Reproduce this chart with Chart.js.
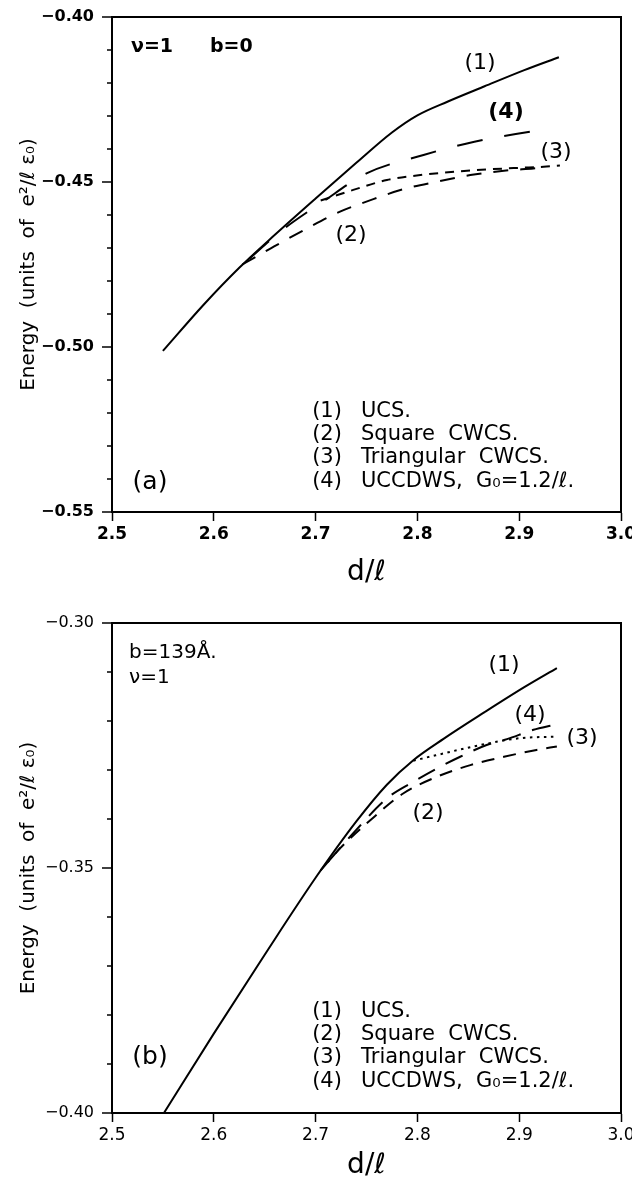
<!DOCTYPE html>
<html>
<head>
<meta charset="utf-8">
<script src="https://cdn.jsdelivr.net/npm/chart.js@4.4.0/dist/chart.umd.min.js"></script>
<style>
body { margin: 0; background: #fff; }
#wrap { position: relative; width: 632px; height: 1186px; }
canvas { position: absolute; left: 0; }
</style>
</head>
<body>
<div id="wrap">
  <canvas id="chartA" width="632" height="593" style="top:0"></canvas>
  <canvas id="chartB" width="632" height="593" style="top:593px"></canvas>
</div>
<script>
// panel (a)  nu=1, b=0
const aUcsD = [2.550, 2.590, 2.625, 2.660, 2.700, 2.740, 2.775, 2.800, 2.830, 2.866, 2.905, 2.939];
const aUcsE = [-0.5012, -0.4872, -0.4760, -0.4660, -0.4550, -0.4442, -0.4350, -0.4298, -0.4256, -0.4210, -0.4161, -0.4122];
const aSqD = [2.628, 2.656, 2.692, 2.724, 2.754, 2.786, 2.819, 2.852, 2.885, 2.914, 2.925];
const aSqE = [-0.4750, -0.4701, -0.4640, -0.4590, -0.4555, -0.4522, -0.4499, -0.4479, -0.4466, -0.4459, -0.4456];
const aTriD = [2.705, 2.737, 2.770, 2.803, 2.836, 2.868, 2.901, 2.924, 2.940];
const aTriE = [-0.4556, -0.4524, -0.4494, -0.4479, -0.4469, -0.4462, -0.4457, -0.4454, -0.4450];
const aCdwD = [2.635, 2.665, 2.707, 2.750, 2.806, 2.856, 2.917];
const aCdwE = [-0.4732, -0.4651, -0.4560, -0.4474, -0.4418, -0.4378, -0.4344];

// panel (b)  b=139A, nu=1
const bUcsD = [2.551, 2.600, 2.650, 2.700, 2.740, 2.770, 2.796, 2.826, 2.866, 2.905, 2.937];
const bUcsE = [-0.4000, -0.3838, -0.3677, -0.3520, -0.3405, -0.3330, -0.3280, -0.3236, -0.3182, -0.3131, -0.3092];
const bSqD = [2.705, 2.724, 2.754, 2.786, 2.819, 2.852, 2.885, 2.917, 2.937];
const bSqE = [-0.3505, -0.3460, -0.3402, -0.3348, -0.3314, -0.3290, -0.3273, -0.3259, -0.3252];
const bTriD = [2.796, 2.818, 2.862, 2.901, 2.937];
const bTriE = [-0.3281, -0.3270, -0.3249, -0.3235, -0.3232];
const bCdwD = [2.712, 2.737, 2.770, 2.796, 2.819, 2.842, 2.868, 2.888, 2.914, 2.934];
const bCdwE = [-0.3488, -0.3429, -0.3358, -0.3324, -0.3297, -0.3273, -0.3249, -0.3237, -0.3218, -0.3208];

const xTicks = [2.5, 2.6, 2.7, 2.8, 2.9, 3.0];
const legendRows = ['UCS.', 'Square  CWCS.', 'Triangular  CWCS.', 'UCCDWS,  G\u2080=1.2/\u2113.'];

function pts(ds, es) {
    return ds.map((d, i) => ({ x: d, y: es[i] }));
}

function line(ds, es, dash) {
    return {
        data: pts(ds, es),
        borderColor: '#000',
        borderWidth: 2,
        borderDash: dash,
        pointRadius: 0,
        fill: false,
        cubicInterpolationMode: 'monotone'
    };
}

// box round the plot area, and the y ticks (long at labels, short between)
const frame = {
    id: 'frame',
    afterDraw(chart) {
        const { ctx, chartArea: a } = chart;
        const y = chart.scales.y;
        ctx.save();
        ctx.strokeStyle = '#000';
        ctx.lineWidth = 2;
        ctx.strokeRect(a.left, a.top, a.right - a.left, a.bottom - a.top);
        ctx.lineWidth = 1.5;
        y.ticks.forEach(t => {
            const py = y.getPixelForValue(t.value);
            const len = Math.round(t.value * 100) % 5 === 0 ? 10 : 5;
            ctx.beginPath();
            ctx.moveTo(a.left - len, py);
            ctx.lineTo(a.left, py);
            ctx.stroke();
        });
        ctx.restore();
    }
};

// texts written inside the plot
const notes = {
    id: 'notes',
    afterDraw(chart, args, opts) {
        const ctx = chart.ctx;
        ctx.save();
        ctx.fillStyle = '#000';
        ctx.textBaseline = 'middle';
        opts.items.forEach(n => {
            ctx.font = n.font;
            ctx.textAlign = n.align || 'center';
            ctx.fillText(n.text, n.x, n.y);
        });
        ctx.restore();
    }
};

function legendItems(y0, tag, tagY) {
    const rowY = [y0, y0 + 23, y0 + 46, y0 + 70];
    const items = [];
    legendRows.forEach((t, i) => {
        items.push({ text: '(' + (i + 1) + ')', x: 327, y: rowY[i], font: '21px "DejaVu Sans"' });
        items.push({ text: t, x: 361, y: rowY[i], font: '21px "DejaVu Sans"', align: 'left' });
    });
    items.push({ text: tag, x: 150, y: tagY, font: '25px "DejaVu Sans"' });
    return items;
}

function makeChart(id, sets, yMin, yMax, bold, top, xHeight, items) {
    const weight = bold ? 'bold' : 'normal';
    return new Chart(document.getElementById(id), {
        type: 'line',
        data: { datasets: sets },
        options: {
            responsive: false,
            animation: false,
            devicePixelRatio: 1,
            layout: { padding: { top: top, right: 11, left: 0, bottom: 0 } },
            plugins: {
                legend: { display: false },
                tooltip: { enabled: false },
                notes: { items: items }
            },
            scales: {
                x: {
                    type: 'linear',
                    min: 2.5,
                    max: 3.0,
                    afterBuildTicks: s => { s.ticks = xTicks.map(v => ({ value: v })); },
                    afterFit: s => { s.height = xHeight; s.paddingLeft = 0; s.paddingRight = 0; },
                    grid: { drawOnChartArea: false, tickLength: 9, tickColor: '#000', tickWidth: 1.5 },
                    border: { color: '#000', width: 2 },
                    ticks: {
                        color: '#000',
                        padding: 3,
                        maxRotation: 0,
                        font: { family: 'DejaVu Sans', size: 17, weight: weight },
                        callback: v => v.toFixed(1)
                    },
                    title: {
                        display: true,
                        text: 'd/\u2113',
                        color: '#000',
                        font: { family: 'DejaVu Sans', size: 28 },
                        padding: { top: 0, bottom: 3 }
                    }
                },
                y: {
                    min: yMin,
                    max: yMax,
                    afterFit: s => { s.width = 112; s.paddingTop = 0; s.paddingBottom = 0; },
                    grid: { drawOnChartArea: false, drawTicks: false },
                    border: { color: '#000', width: 2 },
                    ticks: {
                        stepSize: 0.01,
                        autoSkip: false,
                        color: '#000',
                        padding: 18,
                        font: { family: 'DejaVu Sans', size: 16, weight: weight },
                        callback: v => {
                            const k = Math.round(v * 100);
                            return k % 5 === 0 ? '\u2212' + Math.abs(k / 100).toFixed(2) : '';
                        }
                    },
                    title: {
                        display: true,
                        text: 'Energy  (units  of  e\u00b2/\u2113 \u03b5\u2080)',
                        color: '#000',
                        font: { family: 'DejaVu Sans', size: 20 },
                        padding: { top: 17, bottom: 0 }
                    }
                }
            }
        },
        plugins: [frame, notes]
    });
}

const itemsA = [
    { text: '\u03bd=1', x: 131, y: 47, font: 'bold 19px "DejaVu Sans"', align: 'left' },
    { text: 'b=0', x: 210, y: 47, font: 'bold 19px "DejaVu Sans"', align: 'left' },
    { text: '(1)', x: 480, y: 63, font: '22px "DejaVu Sans"' },
    { text: '(4)', x: 506, y: 112, font: 'bold 22px "DejaVu Sans"' },
    { text: '(3)', x: 556, y: 152, font: '22px "DejaVu Sans"' },
    { text: '(2)', x: 351, y: 235, font: '22px "DejaVu Sans"' }
].concat(legendItems(412, '(a)', 482));

const itemsB = [
    { text: 'b=139\u00c5.', x: 129, y: 60, font: '20px "DejaVu Sans"', align: 'left' },
    { text: '\u03bd=1', x: 129, y: 85, font: '20px "DejaVu Sans"', align: 'left' },
    { text: '(1)', x: 504, y: 72, font: '22px "DejaVu Sans"' },
    { text: '(4)', x: 530, y: 122, font: '22px "DejaVu Sans"' },
    { text: '(3)', x: 582, y: 145, font: '22px "DejaVu Sans"' },
    { text: '(2)', x: 428, y: 220, font: '22px "DejaVu Sans"' }
].concat(legendItems(419, '(b)', 464));

makeChart('chartA', [
    line(aUcsD, aUcsE, []),
    line(aSqD, aSqE, [15, 12]),
    line(aTriD, aTriE, [9, 7]),
    line(aCdwD, aCdwE, [26, 22])
], -0.55, -0.40, true, 17, 81, itemsA);

makeChart('chartB', [
    line(bUcsD, bUcsE, []),
    line(bSqD, bSqE, [13, 9]),
    line(bTriD, bTriE, [2.5, 4.5]),
    line(bCdwD, bCdwE, [19, 12])
], -0.40, -0.30, false, 30, 73, itemsB);
</script>
</body>
</html>
